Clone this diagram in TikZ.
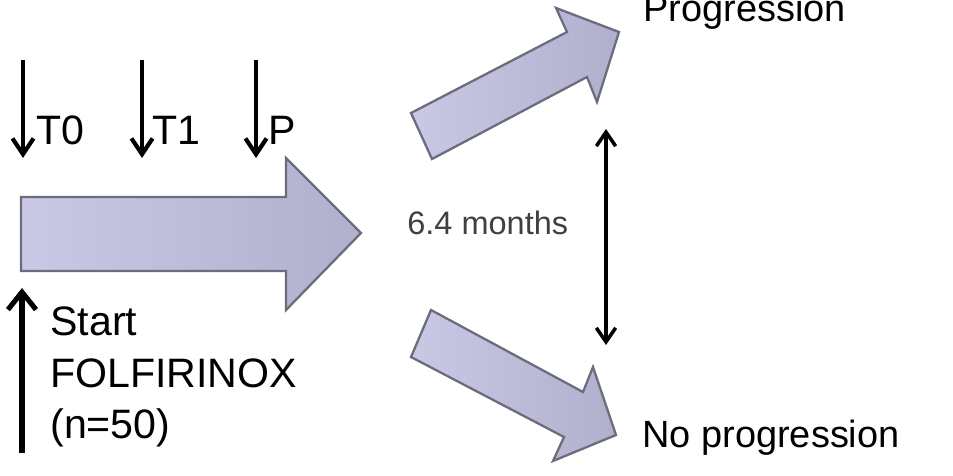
\documentclass[tikz,border=0pt]{standalone}
\usepackage{fontspec}
\setmainfont{Liberation Sans}
\usetikzlibrary{arrows.meta}
\definecolor{fillL}{HTML}{C9C9E5}
\definecolor{fillR}{HTML}{B0B0CC}
\definecolor{edgeC}{HTML}{6C6C7C}
\definecolor{txtgray}{HTML}{404040}
\tikzset{
  bigarrow/.style={draw=edgeC, line width=1.3pt, line join=miter},
  marker/.style={line width=2.1pt, -{Straight Barb[length=9pt,width=12pt,line width=2.4pt]}},
  startarrow/.style={line width=2.9pt, -{Straight Barb[length=10pt,width=16pt,line width=2.9pt]}},
  spanarrow/.style={line width=1.8pt, {Straight Barb[length=8pt,width=11pt,line width=2pt]}-{Straight Barb[length=8pt,width=11pt,line width=2pt]}},
  lbl/.style={anchor=base west, inner sep=0pt, font=\fontsize{23.4pt}{28pt}\selectfont},
  outlbl/.style={anchor=base west, inner sep=0pt, font=\fontsize{21.6pt}{26pt}\selectfont},
}
\begin{document}
\begin{tikzpicture}[x=0.02cm, y=-0.02cm]
\useasboundingbox (0,0) rectangle (953,476);
% main arrow
\path[bigarrow, left color=fillL, right color=fillR]
  (21,197) -- (286,197) -- (286,158) -- (361,233) -- (286,310) -- (286,271) -- (21,271) -- cycle;
% upper diagonal arrow
\path[bigarrow, shading angle=65, left color=fillL, right color=fillR]
  (432,159) -- (411,113) -- (567,32) -- (556,8) -- (619,32) -- (597,102) -- (587,77) -- cycle;
% lower diagonal arrow
\path[bigarrow, shading angle=115, left color=fillL, right color=fillR]
  (431,310) -- (411,357) -- (564,437) -- (553,461) -- (616,435) -- (593,367) -- (583,392) -- cycle;
% time point markers
\coordinate (t0a) at (23,60);  \coordinate (t0b) at (23,158);
\coordinate (t1a) at (142,60); \coordinate (t1b) at (142,158);
\coordinate (pa) at (256,60);  \coordinate (pb) at (256,158);
\draw[marker] (t0a) -- (t0b);
\draw[marker] (t1a) -- (t1b);
\draw[marker] (pa) -- (pb);
\node[lbl] (T0) at (36,145) {T0};
\node[lbl] (T1) at (152,145) {T1};
\node[lbl] (P) at (268,145) {P};
% start arrow
\coordinate (sa) at (22,453); \coordinate (sb) at (22,288);
\draw[startarrow] (sa) -- (sb);
\node[lbl] (start) at (50,335) {Start};
\node[lbl] (folf) at (50,387) {FOLFIRINOX};
\node[lbl] (n50) at (50,438) {(n=50)};
% span arrow
\coordinate (ma) at (606,129); \coordinate (mb) at (606,345);
\draw[spanarrow] (ma) -- (mb);
\node[anchor=base west, inner sep=0pt, text=txtgray, font=\fontsize{18.5pt}{22pt}\selectfont] (months) at (407,235) {6.4 months};
% outcomes
\node[outlbl] (prog) at (643,22) {Progression};
\node[outlbl] (noprog) at (642,447) {No progression};
\end{tikzpicture}
\end{document}
